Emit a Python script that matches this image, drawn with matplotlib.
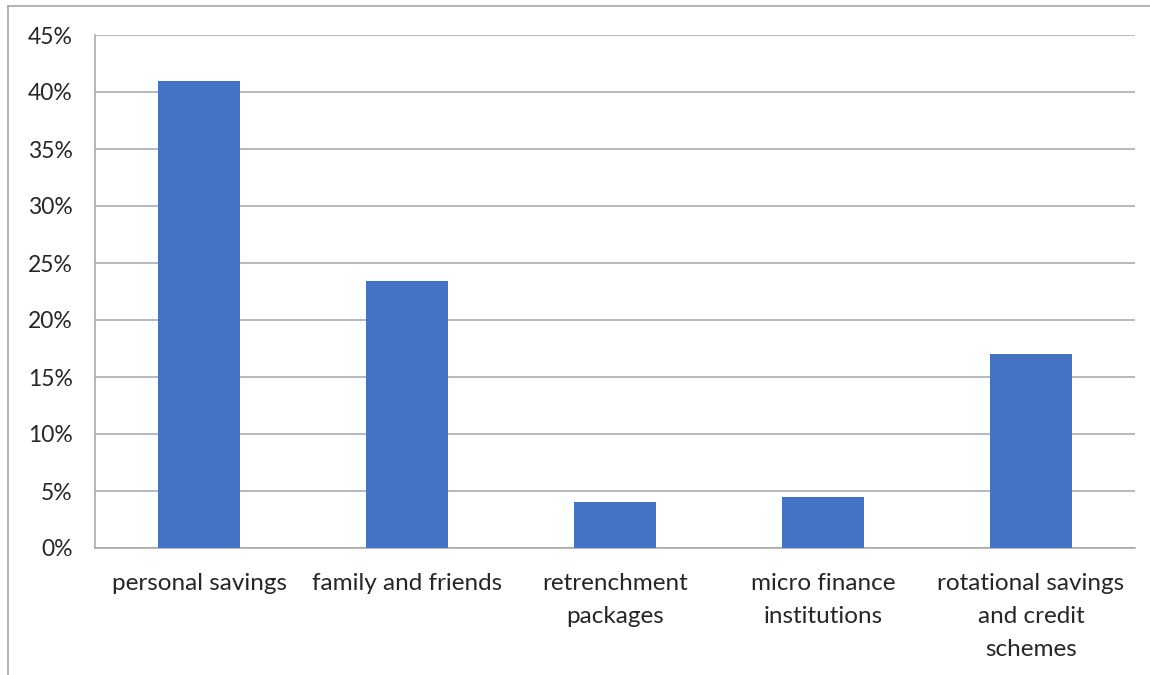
import matplotlib
matplotlib.use("Agg")
import matplotlib.pyplot as plt
from matplotlib.lines import Line2D
from matplotlib.ticker import PercentFormatter

categories = ["personal savings", "family and friends", "retrenchment\npackages",
              "micro finance\ninstitutions", "rotational savings\nand credit\nschemes"]
values = [41.0, 23.4, 4.0, 4.5, 17.0]
yticks = [0, 5, 10, 15, 20, 25, 30, 35, 40, 45]

plt.rcParams['font.family'] = ['Lato', 'DejaVu Sans']

fig = plt.figure(figsize=(11.5, 6.75), dpi=100)
ax = fig.add_axes([95/1150, 1-548/675, (1135-95)/1150, (548-35)/675])

x = list(range(len(categories)))
ax.bar(x, values, width=0.395, color="#4472C4", zorder=3)
ax.set_xlim(-0.5, len(categories)-0.5)
ax.set_ylim(0, 45)
ax.set_yticks(yticks)
ax.yaxis.set_major_formatter(PercentFormatter(decimals=0))
ax.set_xticks(x)
ax.set_xticklabels(categories, fontsize=17.5, color="#262626", linespacing=1.7, va="top")
ax.tick_params(axis="y", labelsize=16.5, labelcolor="#262626", length=0, pad=16)
ax.tick_params(axis="x", length=0, pad=18)
ax.grid(axis="y", color="#A6A6A6", linewidth=1.1, zorder=0)
for s in ["top", "right"]:
    ax.spines[s].set_visible(False)
ax.spines["left"].set_color("#A6A6A6")
ax.spines["bottom"].set_color("#A6A6A6")
ax.spines["left"].set_linewidth(1.1)
ax.spines["bottom"].set_linewidth(1.1)

# outer frame (left and top)
fig.add_artist(Line2D([8/1150, 8/1150], [0, 1-6/675], transform=fig.transFigure, color="#A6A6A6", lw=1.2))
fig.add_artist(Line2D([8/1150, 1], [1-6/675, 1-6/675], transform=fig.transFigure, color="#A6A6A6", lw=1.2))

fig.savefig("out.png", dpi=100)
